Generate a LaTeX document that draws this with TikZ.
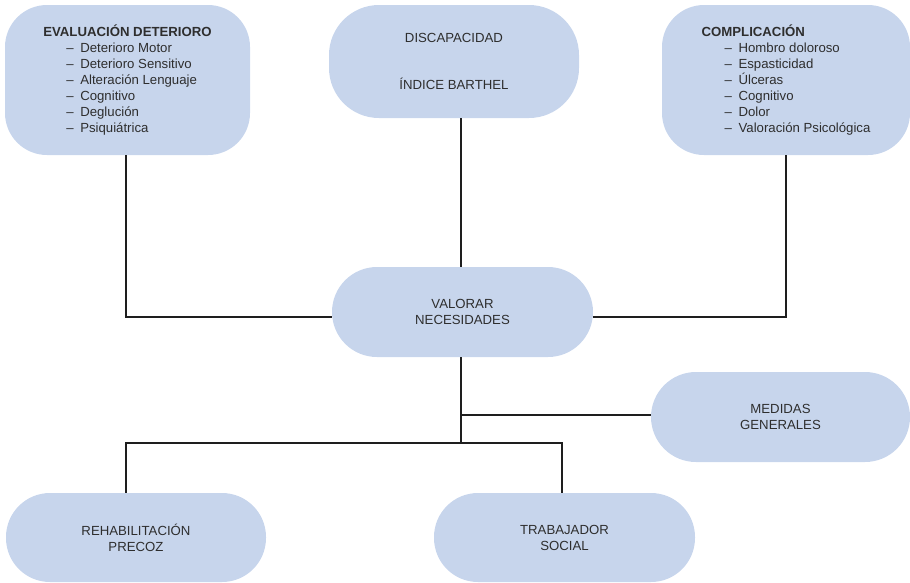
\documentclass[tikz,border=0pt]{standalone}
\usepackage{fontspec}
\setmainfont{Liberation Sans}
\definecolor{boxblue}{HTML}{C7D5EC}
\definecolor{txt}{HTML}{2E2E2E}
\definecolor{ln}{HTML}{1E1E1E}
\newcommand{\itm}[1]{\hspace*{23pt}\makebox[14pt][l]{–}#1}
\begin{document}
\begin{tikzpicture}[x=1pt,y=-1pt,
  box/.style={draw=none,fill=boxblue,rounded corners=#1,inner sep=0pt,
    text=txt,font=\fontsize{13.2}{16}\selectfont,align=center},
  box/.default=44pt,
  conn/.style={draw=ln,line width=2.2pt}]
\useasboundingbox (0,0) rectangle (910,582);
\node[box=42pt,minimum width=245pt,minimum height=150pt,align=left] (eval) at (127.5,80)
  {\textbf{EVALUACIÓN DETERIORO}\\\itm{Deterioro Motor}\\\itm{Deterioro Sensitivo}\\\itm{Alteración Lenguaje}\\\itm{Cognitivo}\\\itm{Deglución}\\\itm{Psiquiátrica}};
\node[box=50pt,minimum width=250pt,minimum height=113pt] (disc) at (454,61.5)
  {DISCAPACIDAD\\[31pt]ÍNDICE BARTHEL};
\node[box=42pt,minimum width=248pt,minimum height=150pt,align=left] (comp) at (786,80)
  {\textbf{COMPLICACIÓN}\\\itm{Hombro doloroso}\\\itm{Espasticidad}\\\itm{Úlceras}\\\itm{Cognitivo}\\\itm{Dolor}\\\itm{Valoración Psicológica}};
\node[box=45pt,minimum width=261pt,minimum height=90pt] (val) at (462.5,312)
  {VALORAR\\NECESIDADES};
\node[box=45pt,minimum width=259pt,minimum height=90pt] (med) at (780.5,417)
  {MEDIDAS\\GENERALES};
\node[box=44pt,minimum width=260pt,minimum height=89pt] (reh) at (136,537.5)
  {REHABILITACIÓN\\PRECOZ};
\node[box=44pt,minimum width=261pt,minimum height=89pt] (tra) at (564.5,537.5)
  {TRABAJADOR\\SOCIAL};
\coordinate (lv) at (126,317);
\coordinate (rv) at (786,317);
\coordinate (mj) at (461,415);
\coordinate (bj) at (461,443);
\coordinate (jl) at (126,443);
\coordinate (jr) at (562,443);
\draw[conn] (lv |- eval.south) -- (lv) -- (lv -| val.west);
\draw[conn] (rv |- comp.south) -- (rv) -- (rv -| val.east);
\draw[conn] (bj |- disc.south) -- (bj |- val.north);
\draw[conn] (bj |- val.south) -- (bj);
\draw[conn] (mj) -- (mj -| med.west);
\draw[conn] (jl |- reh.north) -- (jl) -- (jr) -- (jr |- tra.north);
\end{tikzpicture}
\end{document}
